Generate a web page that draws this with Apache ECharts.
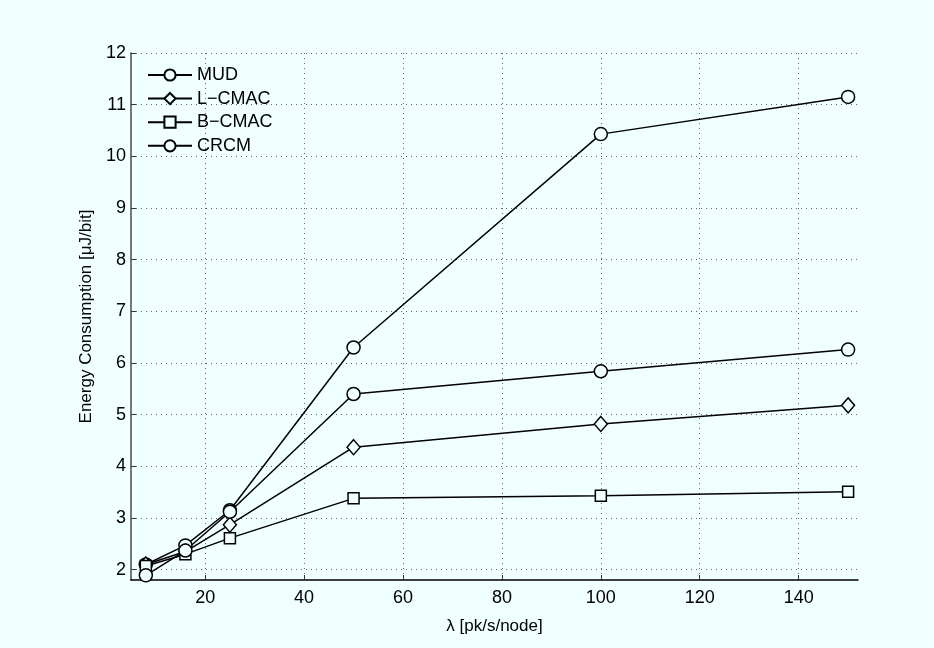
<!DOCTYPE html>
<html>
<head>
<meta charset="utf-8">
<script src="https://cdn.jsdelivr.net/npm/echarts@6/dist/echarts.min.js"></script>
<style>
  html, body { margin: 0; padding: 0; background: #f0ffff; }
  #chart { width: 934px; height: 648px; }
</style>
</head>
<body>
<div id="chart"></div>
<script>
// Traffic load per node (packets / s / node)
const lambdaValues = [8, 16, 25, 50, 100, 150];

// Energy consumption per delivered bit (µJ/bit) for each protocol
const mudEnergy   = [2.10, 2.47, 3.15, 6.30, 10.43, 11.15];
const lcmacEnergy = [2.10, 2.35, 2.87, 4.37, 4.82, 5.18];
const bcmacEnergy = [2.07, 2.30, 2.61, 3.38, 3.43, 3.51];
const crcmEnergy  = [1.89, 2.37, 3.12, 5.40, 5.84, 6.26];

// Tick positions
const xTicks = [20, 40, 60, 80, 100, 120, 140];
const yTicks = [2, 3, 4, 5, 6, 7, 8, 9, 10, 11, 12];

const BG = '#f0ffff';
const FONT = '"Liberation Sans", Arial, Helvetica, sans-serif';

function pairs(xs, ys) {
  return xs.map((x, i) => [x, ys[i]]);
}

function lineSeries(name, values, symbol, size) {
  return {
    name: name,
    type: 'line',
    data: pairs(lambdaValues, values),
    symbol: symbol,
    symbolSize: size,
    showAllSymbol: true,
    lineStyle: { color: '#000', width: 1.5 },
    itemStyle: { color: BG, borderColor: '#000', borderWidth: 1.5 },
    emphasis: { disabled: true },
    animation: false,
    z: 3
  };
}

const gridLine = { show: true, lineStyle: { color: '#666', type: [1, 4], width: 1 } };

const chart = echarts.init(document.getElementById('chart'), null, { renderer: 'canvas' });
chart.setOption({
  backgroundColor: BG,
  animation: false,
  textStyle: { fontFamily: FONT },
  grid: { left: 131, right: 76, top: 53, bottom: 68, containLabel: false },
  legend: {
    orient: 'vertical',
    left: 142,
    top: 61,
    itemWidth: 44,
    itemHeight: 14,
    itemGap: 5.6,
    textStyle: { fontFamily: FONT, fontSize: 18, color: '#000', padding: [0, 0, 0, 0] },
    data: ['MUD', 'L\u2212CMAC', 'B\u2212CMAC', 'CRCM']
  },
  xAxis: {
    type: 'value',
    min: 5,
    max: 152,
    name: '\u03bb [pk/s/node]',
    nameLocation: 'middle',
    nameGap: 38,
    nameTextStyle: { fontFamily: FONT, fontSize: 17, color: '#000' },
    axisLine: { show: true, onZero: false, lineStyle: { color: '#000', width: 1.5 } },
    axisTick: { show: true, inside: true, length: 5, customValues: xTicks, lineStyle: { color: '#333', width: 1 } },
    axisLabel: { customValues: xTicks, fontFamily: FONT, fontSize: 18, color: '#000', margin: 9 },
    splitLine: gridLine
  },
  yAxis: {
    type: 'value',
    min: 1.8,
    max: 12,
    name: 'Energy Consumption [\u03bcJ/bit]',
    nameLocation: 'middle',
    nameGap: 36,
    nameRotate: 90,
    nameTextStyle: { fontFamily: FONT, fontSize: 17, color: '#000' },
    axisLine: { show: true, onZero: false, lineStyle: { color: '#777', width: 2 } },
    axisTick: { show: true, inside: true, length: 5, customValues: yTicks, lineStyle: { color: '#333', width: 1 } },
    axisLabel: { customValues: yTicks, fontFamily: FONT, fontSize: 18, color: '#000', margin: 5 },
    splitLine: gridLine
  },
  series: [
    lineSeries('MUD', mudEnergy, 'circle', 13),
    lineSeries('L\u2212CMAC', lcmacEnergy, 'diamond', [13, 15]),
    lineSeries('B\u2212CMAC', bcmacEnergy, 'rect', 11),
    lineSeries('CRCM', crcmEnergy, 'circle', 13)
  ]
});
</script>
</body>
</html>
